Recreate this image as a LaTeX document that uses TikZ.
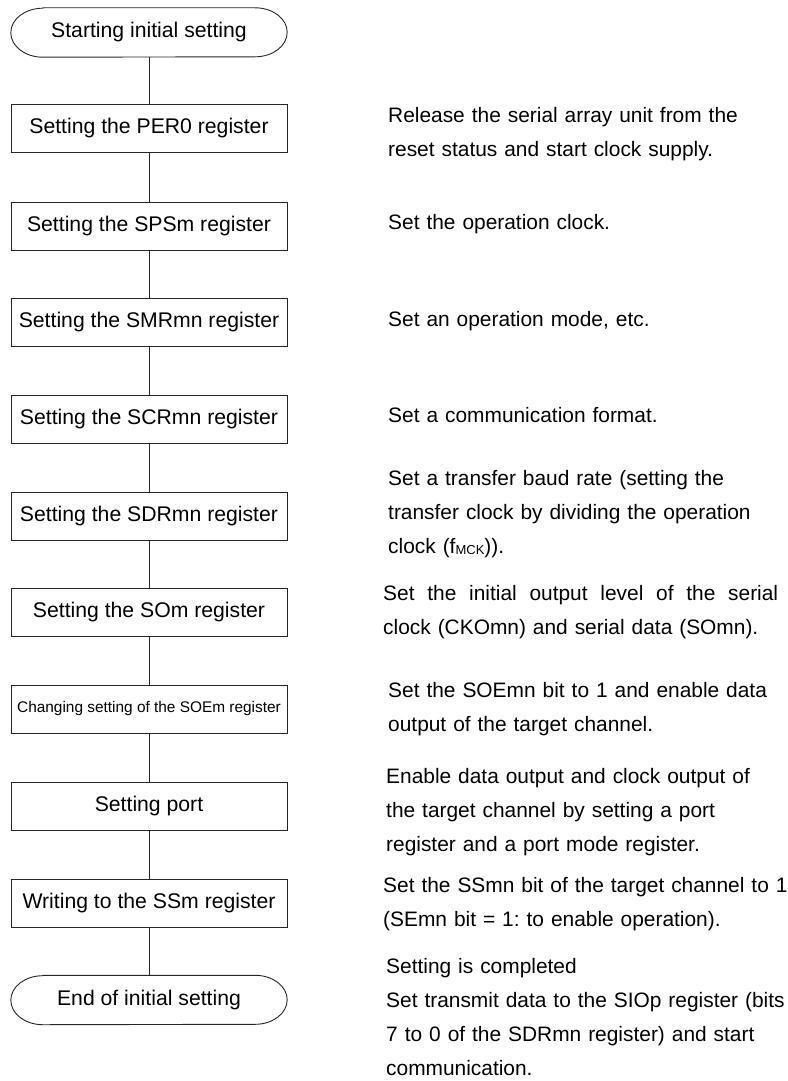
\documentclass[tikz,border=0pt]{standalone}
\usepackage{fontspec}
\setmainfont{Liberation Sans}
\usepackage{tikz}
\usetikzlibrary{positioning,calc}
\frenchspacing

% start/end symbol: flat top and bottom, half-ellipse ends
\newcommand{\drawterminal}[1]{%
  \draw[link] ([xshift=32pt]#1.north west) -- ([xshift=-32pt]#1.north east)
    arc[start angle=90,end angle=-90,x radius=32pt,y radius=24.5pt]
    -- ([xshift=32pt]#1.south west)
    arc[start angle=270,end angle=90,x radius=32pt,y radius=24.5pt] -- cycle;}
\newcommand{\fmck}{f\raisebox{-1pt}{\fontsize{13}{13}\selectfont MCK}}

\begin{document}
\begin{tikzpicture}[x=1pt,y=-1pt,
    link/.style={line width=0.9pt,black!85},
    process/.style={draw=black!85,line width=0.9pt,minimum width=276pt,minimum height=48pt,
      inner sep=0pt,font=\fontsize{21.2}{25}\selectfont},
    terminal/.style={minimum width=276pt,minimum height=49pt,inner sep=0pt,
      font=\fontsize{21.2}{25}\selectfont},
    note/.style={anchor=base west,inner sep=0pt,text width=460pt,align=left,
      font=\fontsize{20.9}{34}\selectfont}]
    \useasboundingbox (0,0) rectangle (787,1081);

    % flow chart
    \node[terminal] (start) at (149,32.5) {Starting initial setting};
    \node[process] (per) at (149,128.5) {Setting the PER0 register};
    \node[process] (sps) at (149,226) {Setting the SPSm register};
    \node[process] (smr) at (149,322.5) {Setting the SMRmn register};
    \node[process] (scr) at (149,419) {Setting the SCRmn register};
    \node[process] (sdr) at (149,516) {Setting the SDRmn register};
    \node[process] (som) at (149,612) {Setting the SOm register};
    \node[process,font=\fontsize{15.4}{18}\selectfont] (soe) at (149,709) {Changing setting of the SOEm register};
    \node[process] (port) at (149,806) {Setting port};
    \node[process] (ssm) at (149,903) {Writing to the SSm register};
    \node[terminal] (end) at (149,1000) {End of initial setting};
    \drawterminal{start}
    \drawterminal{end}
    \foreach \a/\b in {start/per,per/sps,sps/smr,smr/scr,scr/sdr,sdr/som,som/soe,soe/port,port/ssm,ssm/end}
      \draw[link] (\a) -- (\b);

    % remarks
    \node[note] (nper) at (388,122) {Release the serial array unit from the\\reset status and start clock supply.};
    \node[note] (nsps) at (388,229) {Set the operation clock.};
    \node[note] (nsmr) at (388,326) {Set an operation mode, etc.};
    \node[note] (nscr) at (388,422) {Set a communication format.};
    \node[note] (nsdr) at (388,485) {Set a transfer baud rate (setting the\\transfer clock by dividing the operation\\clock (\fmck)).};
    \node[note] (nsom) at (383,600) {\hbox to 395pt{Set\hfill the\hfill initial\hfill output\hfill level\hfill of\hfill the\hfill serial}\\clock (CKOmn) and serial data (SOmn).};
    \node[note] (nsoe) at (388,697) {Set the SOEmn bit to 1 and enable data\\output of the target channel.};
    \node[note] (nport) at (386,783) {Enable data output and clock output of\\the target channel by setting a port\\register and a port mode register.};
    \node[note] (nssm) at (383,892) {Set the SSmn bit of the target channel to 1\\(SEmn bit = 1: to enable operation).};
    \node[note] (nend) at (386,973) {Setting is completed\\Set transmit data to the SIOp register (bits\\7 to 0 of the SDRmn register) and start\\communication.};
\end{tikzpicture}
\end{document}
